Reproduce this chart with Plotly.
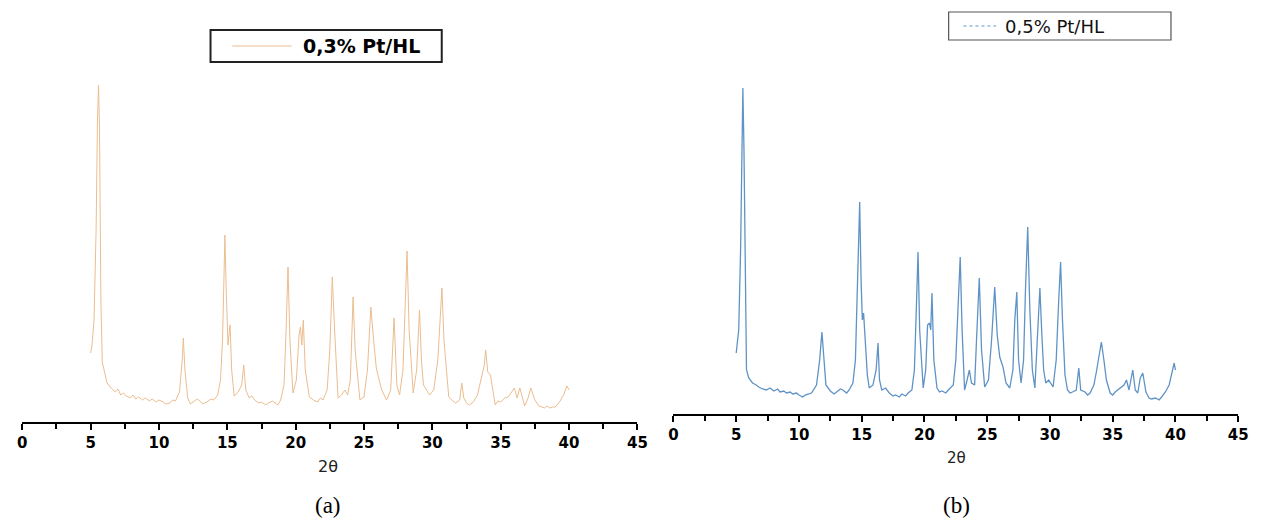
import plotly.graph_objects as go

W, H = 1262, 520

# ---- data (2theta, intensity in arbitrary units) ----
two_theta_a = [5.00, 5.10, 5.25, 5.40, 5.50, 5.58, 5.65, 5.75, 5.85, 6.00, 6.2, 6.5, 6.8, 7.0, 7.2, 7.4,
               7.6, 7.9, 8.1, 8.3, 8.5, 8.8, 9.0, 9.3, 9.5, 9.8, 10.0, 10.3, 10.5, 10.8, 11.0, 11.2,
               11.5, 11.7, 11.78, 11.9, 12.1, 12.3, 12.5, 12.8, 13.0, 13.2, 13.5, 13.8, 14.0, 14.3,
               14.5, 14.65, 14.75, 14.82, 14.92, 15.05, 15.2, 15.32, 15.5, 15.8, 16.05, 16.2, 16.35,
               16.6, 16.8, 17.0, 17.3, 17.5, 17.8, 18.0, 18.3, 18.5, 18.7, 18.9, 19.15, 19.3, 19.44,
               19.58, 19.8, 20.05, 20.25, 20.35, 20.45, 20.56, 20.7, 21.0, 21.3, 21.6, 21.8, 22.0,
               22.3, 22.5, 22.68, 22.85, 23.1, 23.35, 23.6, 23.8, 24.0, 24.2, 24.35, 24.7, 25.0, 25.25,
               25.5, 25.7, 25.9, 26.05, 26.3, 26.65, 26.95, 27.2, 27.4, 27.6, 27.85, 28.0, 28.15, 28.3,
               28.6, 28.85, 29.06, 29.2, 29.35, 29.8, 30.1, 30.4, 30.55, 30.7, 30.85, 31.2, 31.5,
               31.7, 32.0, 32.15, 32.3, 32.5, 32.7, 33.0, 33.3, 33.6, 33.8, 33.9, 34.05, 34.25, 34.45,
               34.6, 34.8, 35.0, 35.3, 35.55, 35.8, 36.0, 36.2, 36.4, 36.75, 37.0, 37.2, 37.5, 37.8,
               38.0, 38.2, 38.4, 38.6, 38.8, 39.0, 39.3, 39.6, 39.85, 40.0]
intensity_a = [69, 77, 102, 192, 302, 337, 292, 122, 60, 50, 39, 34, 30, 33, 27, 29,
               26, 24, 27, 23, 25, 22, 24, 21, 23, 20, 22, 20, 18, 19, 22, 21,
               30, 62, 84, 52, 24, 18, 20, 23, 21, 18, 20, 23, 22, 27,
               42, 82, 142, 187, 132, 77, 97, 52, 26, 30, 37, 57, 32,
               24, 26, 22, 19, 20, 17, 19, 21, 19, 17, 22, 37, 92, 155,
               82, 29, 42, 87, 95, 77, 102, 52, 25, 22, 20, 24, 22,
               32, 72, 145, 92, 24, 27, 32, 27, 42, 125, 72, 22, 25, 52,
               115, 82, 54, 45, 32, 22, 32, 104, 37, 27, 52, 112, 171, 92,
               29, 52, 112, 62, 37, 27, 32, 62, 102, 134, 82, 25, 21,
               19, 22, 39, 24, 19, 17, 20, 27, 45, 57, 72, 50, 47, 27,
               17, 21, 20, 24, 25, 30, 34, 24, 34, 16, 24, 34, 22, 16,
               15, 14, 16, 14, 15, 15, 20, 27, 36, 32]

two_theta_b = [5.00, 5.08, 5.2, 5.35, 5.45, 5.53, 5.62, 5.72, 5.82, 6.0, 6.3, 6.6, 6.8, 7.1, 7.4, 7.7,
               8.0, 8.3, 8.5, 8.8, 9.0, 9.3, 9.5, 9.8, 10.0, 10.3, 10.5, 10.8, 11.0, 11.4, 11.65,
               11.83, 11.95, 12.15, 12.5, 12.8, 13.0, 13.3, 13.5, 13.8, 14.0, 14.3, 14.5, 14.65, 14.78,
               14.84, 14.95, 15.05, 15.15, 15.3, 15.45, 15.6, 15.9, 16.15, 16.3, 16.42, 16.6, 16.9,
               17.2, 17.5, 17.7, 18.0, 18.2, 18.5, 18.7, 19.0, 19.2, 19.35, 19.49, 19.62, 19.9, 20.1,
               20.25, 20.4, 20.5, 20.6, 20.75, 21.0, 21.2, 21.4, 21.7, 21.9, 22.3, 22.5, 22.7, 22.85,
               23.0, 23.2, 23.4, 23.58, 23.75, 24.0, 24.15, 24.37, 24.55, 24.8, 25.1, 25.35, 25.6,
               25.8, 26.0, 26.26, 26.5, 26.8, 27.05, 27.2, 27.36, 27.5, 27.7, 27.9, 28.05, 28.23, 28.4,
               28.6, 28.8, 29.0, 29.2, 29.35, 29.5, 29.67, 29.9, 30.25, 30.5, 30.7, 30.85, 31.0, 31.2,
               31.4, 31.6, 31.8, 32.1, 32.3, 32.45, 32.8, 33.0, 33.2, 33.5, 33.7, 33.9, 34.1, 34.3,
               34.5, 34.8, 35.0, 35.2, 35.6, 35.9, 36.1, 36.3, 36.6, 36.8, 37.0, 37.2, 37.4, 37.65,
               37.9, 38.1, 38.4, 38.7, 38.9, 39.2, 39.5, 39.75, 39.9, 40.0]
intensity_b = [61, 69, 84, 164, 264, 326, 264, 114, 44, 36, 31, 29, 27, 25, 24, 26,
               23, 25, 22, 23, 21, 22, 20, 21, 19, 17, 19, 20, 21, 29, 54,
               82, 64, 29, 23, 20, 22, 25, 24, 21, 24, 31, 54, 114, 184,
               212, 134, 94, 101, 69, 39, 26, 29, 44, 71, 34, 24, 26,
               21, 18, 19, 17, 20, 18, 21, 24, 44, 104, 162, 84, 26, 44,
               89, 91, 84, 121, 54, 26, 22, 23, 21, 24, 29, 54, 124, 157,
               84, 24, 34, 44, 31, 29, 74, 136, 64, 27, 34, 74, 127,
               79, 57, 47, 31, 26, 44, 94, 122, 54, 31, 54, 124, 187, 104,
               44, 26, 74, 126, 81, 44, 31, 34, 27, 54, 114, 152, 94, 39,
               24, 21, 22, 24, 46, 24, 22, 19, 21, 29, 42, 59, 72, 54,
               34, 21, 19, 22, 26, 29, 34, 24, 44, 24, 21, 36, 41, 22,
               16, 15, 16, 14, 17, 22, 29, 42, 51, 44]

x_ticks = [0, 5, 10, 15, 20, 25, 30, 35, 40, 45]
legend_a = "0,3% Pt/HL"
legend_b = "0,5% Pt/HL"
axis_title = "2θ"
panel_labels = ["(a)", "(b)"]

color_a = "#ebbd8f"
color_b_line = "#5f93c6"


def px(x):
    return x / W


def py(y):
    return 1 - y / H


fig = go.Figure()
fig.add_trace(go.Scatter(x=two_theta_a, y=intensity_a, mode="lines", xaxis="x", yaxis="y",
                         line=dict(color=color_a, width=1), showlegend=False))
fig.add_trace(go.Scatter(x=two_theta_b, y=intensity_b, mode="lines", xaxis="x2", yaxis="y2",
                         line=dict(color=color_b_line, width=1.3), showlegend=False))

tick_font = dict(family="DejaVu Sans", size=15, color="black")
xcommon = dict(range=[0, 45], tickmode="array", tickvals=x_ticks,
               ticktext=["<b>%d</b>" % t for t in x_ticks],
               showline=True, linecolor="black", linewidth=2, ticks="outside", ticklen=6,
               tickwidth=2, tickcolor="black", showgrid=False, zeroline=False, tickfont=tick_font,
               minor=dict(dtick=2.5, tick0=0, ticks="outside", ticklen=5, tickwidth=2, tickcolor="black",
                          showgrid=False),
               fixedrange=True)

fig.update_layout(
    width=W, height=H,
    margin=dict(l=0, r=0, t=0, b=0),
    paper_bgcolor="white", plot_bgcolor="white",
    xaxis=dict(domain=[px(17.5), px(640)], anchor="y", **xcommon),
    yaxis=dict(domain=[py(422), py(85)], range=[0, 337], visible=False, anchor="x"),
    xaxis2=dict(domain=[px(676.5), px(1248)], anchor="y2", **xcommon),
    yaxis2=dict(domain=[py(414), py(88)], range=[0, 326], visible=False, anchor="x2"),
)

shapes = []
annotations = []

# legend (a)
shapes.append(dict(type="rect", xref="paper", yref="paper", x0=px(208), x1=px(442), y0=py(62), y1=py(30),
                   line=dict(color="#222", width=2), fillcolor="white"))
shapes.append(dict(type="line", xref="paper", yref="paper", x0=px(230), x1=px(290), y0=py(46), y1=py(46),
                   line=dict(color=color_a, width=1)))
annotations.append(dict(text=legend_a, xref="paper", yref="paper", x=px(300), y=py(46), xanchor="left",
                        yanchor="middle", showarrow=False,
                        font=dict(family="DejaVu Sans", size=19, color="black", weight="bold")))
# legend (b)
shapes.append(dict(type="rect", xref="paper", yref="paper", x0=px(955), x1=px(1180), y0=py(40), y1=py(12),
                   line=dict(color="#555", width=1.2), fillcolor="white"))
shapes.append(dict(type="line", xref="paper", yref="paper", x0=px(970), x1=px(1003), y0=py(26), y1=py(26),
                   line=dict(color=color_b_line, width=1, dash="dot")))
annotations.append(dict(text=legend_b, xref="paper", yref="paper", x=px(1010), y=py(26), xanchor="left",
                        yanchor="middle", showarrow=False,
                        font=dict(family="DejaVu Sans", size=18, color="#111")))

# axis titles and panel labels
annotations.append(dict(text=axis_title, xref="paper", yref="paper", x=px(327), y=py(466), xanchor="center",
                        yanchor="middle", showarrow=False,
                        font=dict(family="DejaVu Sans", size=16, color="#222")))
annotations.append(dict(text=axis_title, xref="paper", yref="paper", x=px(963), y=py(458), xanchor="center",
                        yanchor="middle", showarrow=False,
                        font=dict(family="DejaVu Sans", size=15, color="#222")))
annotations.append(dict(text=panel_labels[0], xref="paper", yref="paper", x=px(327), y=py(505),
                        xanchor="center", yanchor="middle", showarrow=False,
                        font=dict(family="Liberation Serif", size=23, color="black")))
annotations.append(dict(text=panel_labels[1], xref="paper", yref="paper", x=px(963), y=py(505),
                        xanchor="center", yanchor="middle", showarrow=False,
                        font=dict(family="Liberation Serif", size=23, color="black")))

fig.update_layout(shapes=shapes, annotations=annotations)
fig.write_html("out.html")
